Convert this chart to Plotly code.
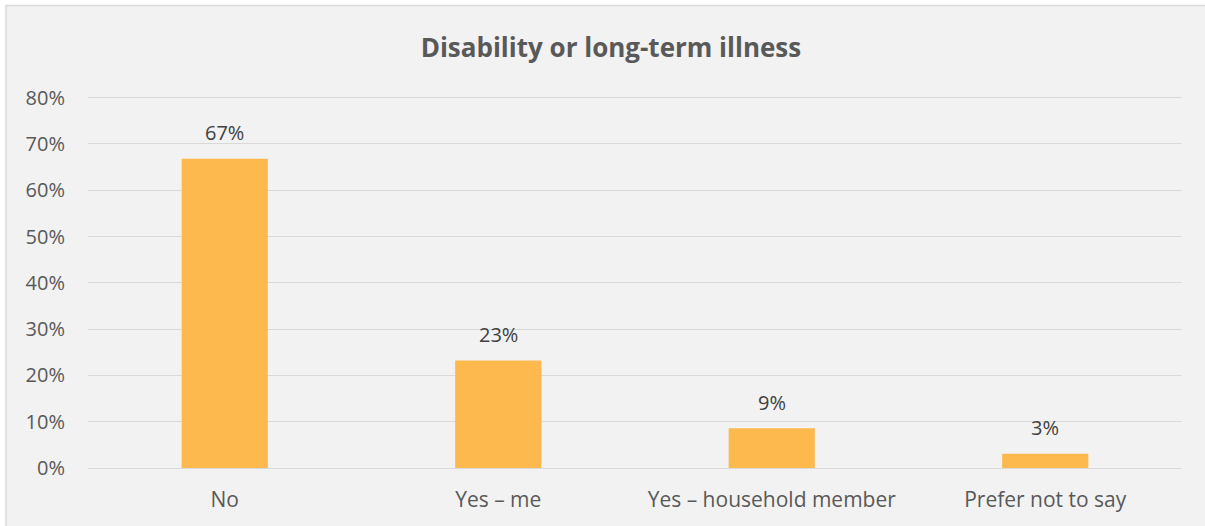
import plotly.graph_objects as go

categories = ["No", "Yes – me", "Yes – household member", "Prefer not to say"]
values = [0.668, 0.232, 0.086, 0.031]
labels = ["67%", "23%", "9%", "3%"]
y_ticks = [0, 0.1, 0.2, 0.3, 0.4, 0.5, 0.6, 0.7, 0.8]

W, H = 1205, 526
ymax = 0.81
ml, mr, mb = 88, 23, 58
ph = 370 * ymax / 0.8
mt = H - mb - ph
pw = W - ml - mr
FONT = "Open Sans"

fig = go.Figure()
fig.add_trace(go.Bar(
    x=categories, y=values,
    marker=dict(color="#FDB94E", line=dict(width=0)),
    hoverinfo="skip",
))

for c, v, t in zip(categories, values, labels):
    fig.add_annotation(x=c, y=v, text=t, showarrow=False, yanchor="middle",
                       yshift=26, font=dict(color="#404040", size=20, family=FONT))

fig.update_layout(
    width=W, height=H,
    margin=dict(l=ml, r=mr, t=mt, b=mb),
    paper_bgcolor="white",
    plot_bgcolor="rgba(0,0,0,0)",
    bargap=0.685,
    showlegend=False,
    font=dict(family=FONT, color="#595959", size=20),
    title=dict(text="<b>Disability or long-term illness</b>", x=0.507, xanchor="center",
               y=1 - 48 / H, yanchor="middle",
               font=dict(size=26, color="#595959", family=FONT)),
    xaxis=dict(showgrid=False, showline=False, ticks="", ticklabelstandoff=17,
               tickfont=dict(size=21, color="#595959")),
    yaxis=dict(range=[0, ymax], tickvals=y_ticks, tickformat=".0%", showgrid=True,
               gridcolor="#D9D9D9", gridwidth=1.3, zeroline=True, zerolinecolor="#D9D9D9",
               zerolinewidth=1.3, ticks="", ticklabelstandoff=22,
               tickfont=dict(size=20, color="#595959")),
    shapes=[dict(type="rect", xref="paper", yref="paper", layer="below",
                 x0=(6 - ml) / pw, x1=(W + 10 - ml) / pw,
                 y0=-(H + 10 - mt - ph) / ph, y1=(H - 6 - mb) / ph,
                 fillcolor="#F2F2F2", line=dict(color="#D9D9D9", width=1.5))],
)

fig.write_html("out.html", config={"displayModeBar": False},
               post_script="document.body.style.margin='0';document.body.style.overflow='hidden';")
